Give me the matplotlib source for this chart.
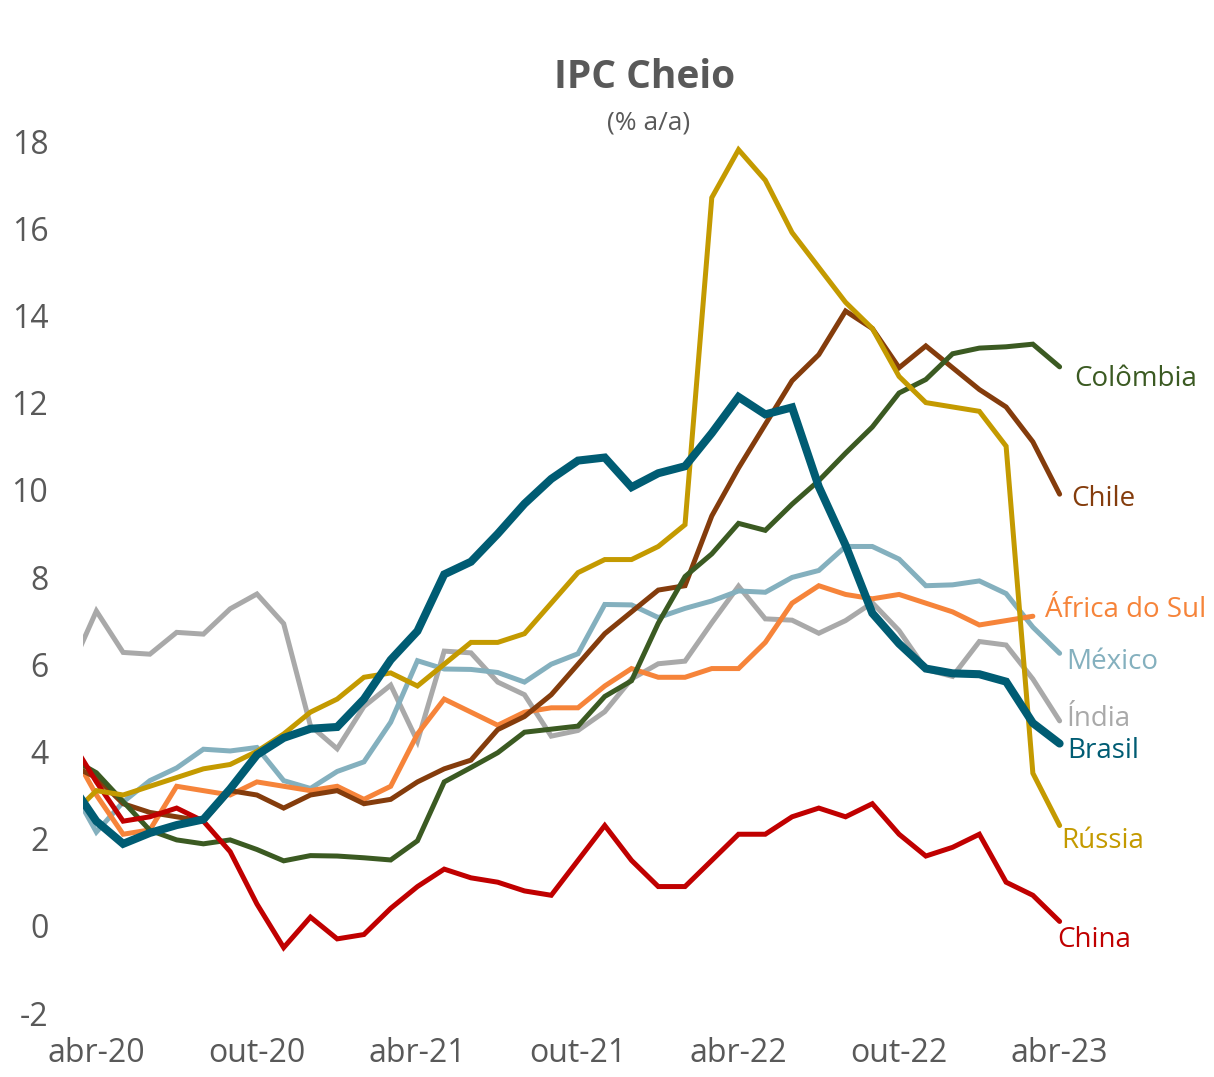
import matplotlib
matplotlib.use("Agg")
import matplotlib.pyplot as plt

# monthly, mar-20 .. abr-23 (index 0 = mar-20)
months = ["mar-20", "abr-20", "mai-20", "jun-20", "jul-20", "ago-20", "set-20", "out-20", "nov-20", "dez-20",
          "jan-21", "fev-21", "mar-21", "abr-21", "mai-21", "jun-21", "jul-21", "ago-21", "set-21", "out-21",
          "nov-21", "dez-21", "jan-22", "fev-22", "mar-22", "abr-22", "mai-22", "jun-22", "jul-22", "ago-22",
          "set-22", "out-22", "nov-22", "dez-22", "jan-23", "fev-23", "mar-23", "abr-23"]

brasil = [3.30, 2.40, 1.88, 2.13, 2.31, 2.44, 3.14, 3.92, 4.31, 4.52, 4.56, 5.20, 6.10, 6.76, 8.06, 8.35,
          8.99, 9.68, 10.25, 10.67, 10.74, 10.06, 10.38, 10.54, 11.30, 12.13, 11.73, 11.89, 10.07, 8.73,
          7.17, 6.47, 5.90, 5.79, 5.77, 5.60, 4.65, 4.18]
russia = [2.5, 3.1, 3.0, 3.2, 3.4, 3.6, 3.7, 4.0, 4.4, 4.9, 5.2, 5.7, 5.8, 5.5, 6.0, 6.5, 6.5, 6.7, 7.4,
          8.1, 8.4, 8.4, 8.7, 9.2, 16.7, 17.8, 17.1, 15.9, 15.1, 14.3, 13.7, 12.6, 12.0, 11.9, 11.8, 11.0,
          3.5, 2.3]
chile = [3.7, 3.4, 2.8, 2.6, 2.5, 2.4, 3.1, 3.0, 2.7, 3.0, 3.1, 2.8, 2.9, 3.3, 3.6, 3.8, 4.5, 4.8, 5.3,
         6.0, 6.7, 7.2, 7.7, 7.8, 9.4, 10.5, 11.5, 12.5, 13.1, 14.1, 13.7, 12.8, 13.3, 12.8, 12.3, 11.9,
         11.1, 9.9]
colombia = [3.86, 3.51, 2.85, 2.19, 1.97, 1.88, 1.97, 1.75, 1.49, 1.61, 1.60, 1.56, 1.51, 1.95, 3.30,
            3.63, 3.97, 4.44, 4.51, 4.58, 5.26, 5.62, 6.94, 8.01, 8.53, 9.23, 9.07, 9.67, 10.21, 10.84,
            11.44, 12.22, 12.53, 13.12, 13.25, 13.28, 13.34, 12.82]
africa = [4.1, 3.0, 2.1, 2.2, 3.2, 3.1, 3.0, 3.3, 3.2, 3.1, 3.2, 2.9, 3.2, 4.4, 5.2, 4.9, 4.6, 4.9, 5.0,
          5.0, 5.5, 5.9, 5.7, 5.7, 5.9, 5.9, 6.5, 7.4, 7.8, 7.6, 7.5, 7.6, 7.4, 7.2, 6.9, 7.0, 7.1, None]
mexico = [3.25, 2.15, 2.84, 3.33, 3.62, 4.05, 4.01, 4.09, 3.33, 3.15, 3.54, 3.76, 4.67, 6.08, 5.89,
          5.88, 5.81, 5.59, 6.00, 6.24, 7.37, 7.36, 7.07, 7.28, 7.45, 7.68, 7.65, 7.99, 8.15, 8.70, 8.70,
          8.41, 7.80, 7.82, 7.91, 7.62, 6.85, 6.25]
india = [5.84, 7.22, 6.27, 6.23, 6.73, 6.69, 7.27, 7.61, 6.93, 4.59, 4.06, 5.03, 5.52, 4.23, 6.30, 6.26,
         5.59, 5.30, 4.35, 4.48, 4.91, 5.66, 6.01, 6.07, 6.95, 7.79, 7.04, 7.01, 6.71, 7.00, 7.41, 6.77,
         5.88, 5.72, 6.52, 6.44, 5.66, 4.70]
china = [4.3, 3.3, 2.4, 2.5, 2.7, 2.4, 1.7, 0.5, -0.5, 0.2, -0.3, -0.2, 0.4, 0.9, 1.3, 1.1, 1.0, 0.8,
         0.7, 1.5, 2.3, 1.5, 0.9, 0.9, 1.5, 2.1, 2.1, 2.5, 2.7, 2.5, 2.8, 2.1, 1.6, 1.8, 2.1, 1.0, 0.7, 0.1]

tick_months = ["abr-20", "out-20", "abr-21", "out-21", "abr-22", "out-22", "abr-23"]
y_ticks = [-2, 0, 2, 4, 6, 8, 10, 12, 14, 16, 18]

# name, values, colour, width, label position (x, y in data units)
series = [
    ("Índia", india, "#A9A9A9", 3.6, (37.25, 4.75)),
    ("México", mexico, "#84B0BE", 3.6, (37.25, 6.05)),
    ("África do Sul", africa, "#F6843A", 3.6, (36.45, 7.25)),
    ("Chile", chile, "#843C0C", 3.6, (37.45, 9.8)),
    ("Colômbia", colombia, "#3B5A22", 3.6, (37.55, 12.55)),
    ("China", china, "#C00000", 3.6, (36.9, -0.32)),
    ("Rússia", russia, "#C49A00", 3.6, (37.05, 1.95)),
    ("Brasil", brasil, "#005C73", 5.8, (37.3, 4.0)),
]

plt.rcParams['font.family'] = ['Open Sans', 'DejaVu Sans']
grey = "#595959"

fig = plt.figure(figsize=(12.14, 10.77), dpi=100)
ax = fig.add_axes([83 / 1214, (1077 - 1013) / 1077, (1214 - 83) / 1214, 872 / 1077])

x = list(range(len(months)))
for name, vals, color, lw, (lx, ly) in series:
    xs = [i for i, v in zip(x, vals) if v is not None]
    ys = [v for v in vals if v is not None]
    ax.plot(xs, ys, color=color, lw=lw, solid_joinstyle='miter', solid_capstyle='round')
    ax.text(lx, ly, name, color=color, fontsize=20, va='center', ha='left', clip_on=False)

ax.set_xlim(0.5, 42.77)
ax.set_ylim(-2, 18)
ax.set_yticks(y_ticks)
ax.set_yticklabels([str(v) for v in y_ticks], fontsize=23, color=grey)
ax.set_xticks([months.index(m) for m in tick_months])
ax.set_xticklabels(tick_months, fontsize=23, color=grey)
ax.tick_params(length=0)
ax.tick_params(axis='y', pad=25)
ax.tick_params(axis='x', pad=17)
for s in ax.spines.values():
    s.set_visible(False)

fig.text(0.531, 0.928, "IPC Cheio", ha='center', va='center', fontsize=28, fontweight='bold', color=grey)
fig.text(0.534, 0.886, "(% a/a)", ha='center', va='center', fontsize=19, color=grey)

fig.savefig("out.png", dpi=100)
